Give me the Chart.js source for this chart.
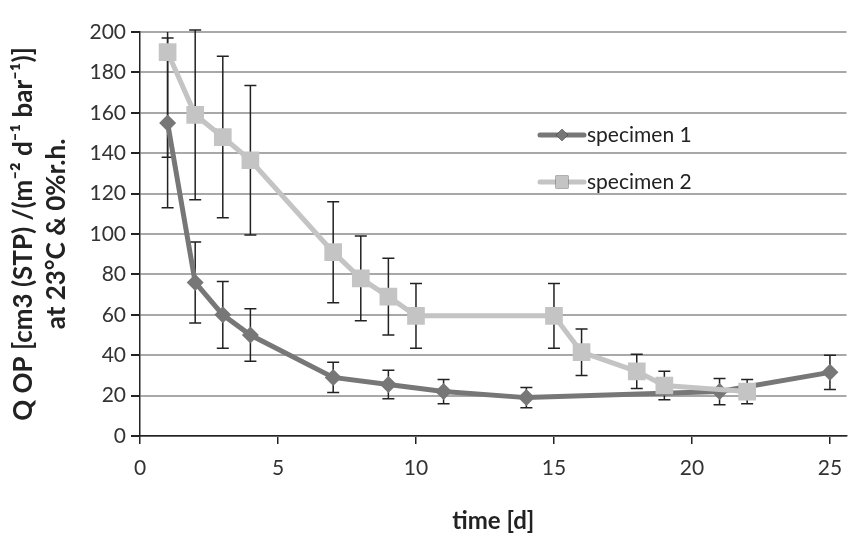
<!DOCTYPE html>
<html>
<head>
<meta charset="utf-8">
<script src="https://cdn.jsdelivr.net/npm/chart.js@4.4.1/dist/chart.umd.min.js"></script>
<style>
  html, body { margin: 0; padding: 0; background: #fff; }
  #wrap { width: 859px; height: 541px; }
</style>
</head>
<body>
<div id="wrap"><canvas id="chart" width="859" height="541"></canvas></div>
<script>
// values
const days1 = [1, 2, 3, 4, 7, 9, 11, 14, 21, 25]
const vals1 = [155, 76, 60, 50, 29, 25.5, 22, 19, 22, 31.5]
const err1 = [42, 20, 16.5, 13, 7.5, 7, 6, 5, 6.5, 8.5]

const days2 = [1, 2, 3, 4, 7, 8, 9, 10, 15, 16, 18, 19, 22]
const vals2 = [190, 159, 148, 136.5, 91, 78, 69, 59.5, 59.5, 41.5, 32, 25, 22]
const err2 = [52, 42, 40, 37, 25, 21, 19, 16, 16, 11.5, 8.5, 7, 6]

const yTicks = [0, 20, 40, 60, 80, 100, 120, 140, 160, 180, 200]
const xTicks = [0, 5, 10, 15, 20, 25]

const dark = '#777777'
const light = '#c3c4c3'
const FONT = "Lato, 'Open Sans', sans-serif"

const toPoints = (xs, ys) => xs.map((x, i) => ({ x: x, y: ys[i] }))

// error bars, drawn under the lines and markers
const errorBars = {
  id: 'errorBars',
  beforeDatasetsDraw(chart) {
    const ctx = chart.ctx
    const y = chart.scales.y
    const area = chart.chartArea
    chart.data.datasets.forEach((ds, i) => {
      const meta = chart.getDatasetMeta(i)
      meta.data.forEach((pt, j) => {
        const v = ds.data[j].y
        const e = ds.errors[j]
        let top = y.getPixelForValue(v + e)
        const bot = y.getPixelForValue(v - e)
        let capTop = true
        if (top < area.top - 4) { top = area.top; capTop = false }
        ctx.save()
        ctx.strokeStyle = '#222'
        ctx.lineWidth = 1.5
        ctx.beginPath()
        ctx.moveTo(pt.x, top)
        ctx.lineTo(pt.x, bot)
        if (capTop) { ctx.moveTo(pt.x - 6, top); ctx.lineTo(pt.x + 6, top) }
        ctx.moveTo(pt.x - 6, bot)
        ctx.lineTo(pt.x + 6, bot)
        ctx.stroke()
        ctx.restore()
      })
    })
  }
}

// legend sitting inside the plot, like the original
const innerLegend = {
  id: 'innerLegend',
  afterDraw(chart) {
    const ctx = chart.ctx
    const x0 = 538
    const rows = [135, 182]
    chart.data.datasets.forEach((ds, i) => {
      const yy = rows[i]
      ctx.save()
      ctx.strokeStyle = ds.borderColor
      ctx.lineWidth = 5
      ctx.lineCap = 'round'
      ctx.beginPath()
      ctx.moveTo(x0 + 2, yy)
      ctx.lineTo(x0 + 46, yy)
      ctx.stroke()
      Chart.helpers.drawPoint(ctx, {
        pointStyle: ds.pointStyle,
        radius: ds.pointStyle === 'rect' ? 9 : 6,
        borderWidth: 0
      }, x0 + 24, yy)
      ctx.fillStyle = ds.backgroundColor
      ctx.fill()
      ctx.fillStyle = '#222'
      ctx.font = '21px ' + FONT
      ctx.textBaseline = 'middle'
      ctx.fillText(ds.label, x0 + 49, yy)
      ctx.restore()
    })
  }
}

new Chart(document.getElementById('chart'), {
  type: 'line',
  data: {
    datasets: [
      {
        label: 'specimen 1',
        data: toPoints(days1, vals1),
        errors: err1,
        borderColor: dark,
        backgroundColor: dark,
        borderWidth: 5,
        pointStyle: 'rectRot',
        pointRadius: 8.5,
        pointBorderWidth: 0,
        order: 1
      },
      {
        label: 'specimen 2',
        data: toPoints(days2, vals2),
        errors: err2,
        borderColor: light,
        backgroundColor: light,
        borderWidth: 5,
        pointStyle: 'rect',
        pointRadius: 12.5,
        pointBorderWidth: 0,
        order: 0
      }
    ]
  },
  options: {
    responsive: false,
    animation: false,
    layout: { padding: { top: 32, right: 4, left: 0, bottom: 0 } },
    plugins: {
      legend: { display: false },
      tooltip: { enabled: false }
    },
    scales: {
      x: {
        type: 'linear',
        min: 0,
        max: 25.6,
        afterBuildTicks: (scale) => { scale.ticks = xTicks.map(v => ({ value: v })) },
        afterFit: (scale) => { scale.height = 105 },
        grid: { drawOnChartArea: false, tickLength: 8, tickColor: '#222', lineWidth: 1.5 },
        border: { color: '#222', width: 1.5 },
        ticks: { color: '#333', font: { size: 21, family: FONT }, padding: 12, maxRotation: 0 },
        title: {
          display: true,
          text: 'time [d]',
          color: '#222',
          font: { size: 24, weight: 'bold', family: FONT },
          padding: { top: 0, bottom: 5 }
        }
      },
      y: {
        min: 0,
        max: 200,
        afterBuildTicks: (scale) => { scale.ticks = yTicks.map(v => ({ value: v })) },
        afterFit: (scale) => { scale.width = 140 },
        grid: { color: '#a8a8a8', lineWidth: 2, tickLength: 9, tickColor: '#222' },
        border: { color: '#222', width: 1.5 },
        ticks: { color: '#333', font: { size: 21, family: FONT }, padding: 5 },
        title: {
          display: true,
          text: ['Q OP [cm3 (STP) /(m\u207B\u00B2 d\u207B\u00B9 bar\u207B\u00B9)]', 'at 23\u00B0C & 0%r.h.'],
          color: '#222',
          font: { size: 26, weight: 'bold', family: FONT, lineHeight: 1.27 },
          padding: { top: 7, bottom: 0 }
        }
      }
    }
  },
  plugins: [errorBars, innerLegend]
})
</script>
</body>
</html>
